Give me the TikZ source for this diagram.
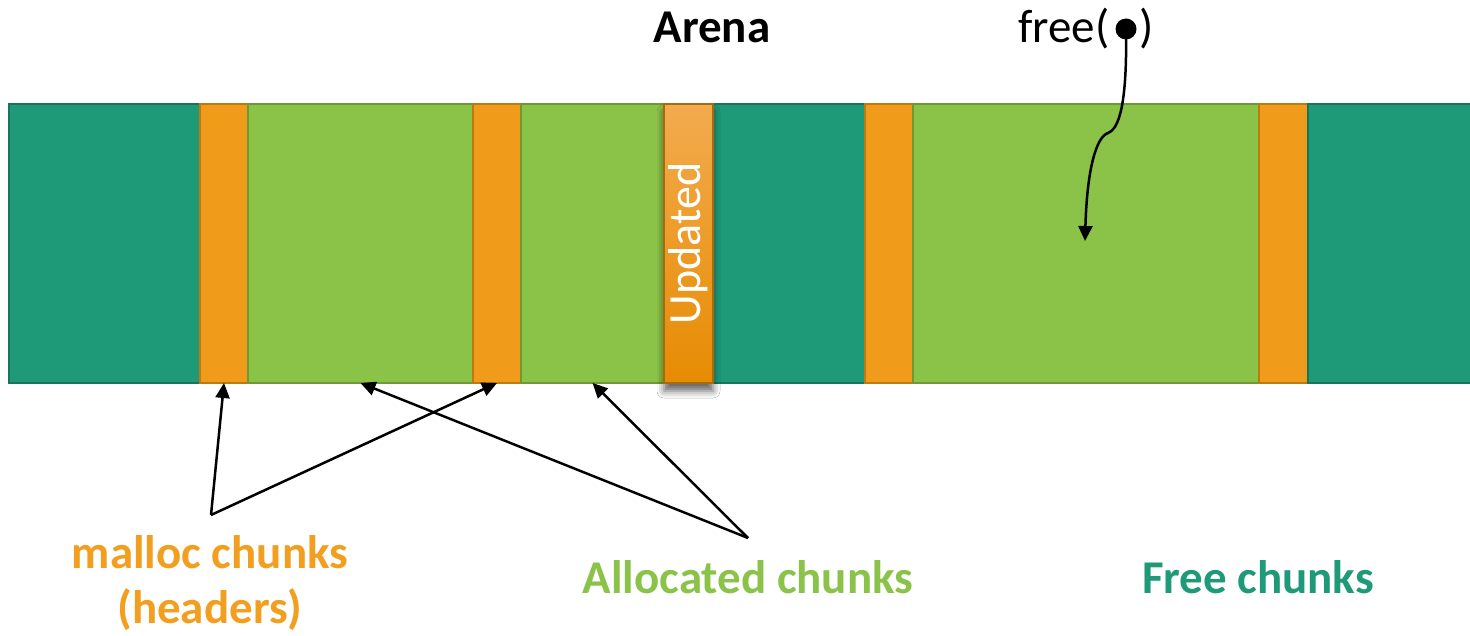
\documentclass[tikz,border=0pt]{standalone}
\usepackage{fontspec}
\setmainfont{Carlito}
\usetikzlibrary{arrows.meta,shadows.blur}
\definecolor{tealf}{HTML}{1E9A78}
\definecolor{tealb}{HTML}{177559}
\definecolor{orf}{HTML}{F09C1A}
\definecolor{orb}{HTML}{C0780F}
\definecolor{grf}{HTML}{8BC248}
\definecolor{grb}{HTML}{6E9A35}
\definecolor{uptop}{HTML}{F3AB4E}
\definecolor{upmid}{HTML}{F59E14}
\definecolor{upbot}{HTML}{E68C02}
\definecolor{upb}{HTML}{A86A10}
\definecolor{ortext}{HTML}{F29E1F}
\definecolor{grtext}{HTML}{8BC34A}
\definecolor{tltext}{HTML}{1F9A78}
\begin{document}
\begin{tikzpicture}[x=1pt,y=-1pt,
  seg/.style={rectangle, inner sep=0pt, outer sep=0pt, minimum height=279pt, anchor=north west, line width=2pt},
  freeseg/.style={seg, fill=tealf, draw=tealb},
  hdrseg/.style={seg, fill=orf, draw=orb},
  allocseg/.style={seg, fill=grf, draw=grb},
  big/.style={font=\fontsize{47}{54}\selectfont},
  bigb/.style={font=\fontsize{47}{55}\selectfont\bfseries},
  ptr/.style={line width=2.5pt, -{Triangle[length=15pt,width=14pt]}}
]
\useasboundingbox (0,0) rectangle (1470,636);
\clip (0,0) rectangle (1470,636);
\fill[white] (0,0) rectangle (1470,636);

\node[freeseg, minimum width=191pt] (t1) at (9,104) {};
\node[hdrseg, minimum width=48pt] (h1) at (200,104) {};
\node[allocseg, minimum width=225pt] (g1) at (248,104) {};
\node[hdrseg, minimum width=48pt] (h2) at (473,104) {};
\node[allocseg, minimum width=143pt] (g2) at (521,104) {};
\node[freeseg, minimum width=152pt] (t2) at (713,104) {};
\node[hdrseg, minimum width=48pt] (h3) at (865,104) {};
\node[allocseg, minimum width=346pt] (g3) at (913,104) {};
\node[hdrseg, minimum width=49pt] (h4) at (1259,104) {};
\node[freeseg, minimum width=180pt] (t3) at (1308,104) {};
\node[seg, minimum width=49pt, draw=upb, top color=uptop, middle color=upmid, bottom color=upbot,
      blur shadow={shadow xshift=0pt, shadow yshift=-8pt, shadow blur radius=7pt, shadow opacity=60},
      text=white, font=\fontsize{46}{50}\selectfont] (up) at (664,104) {\rotatebox{90}{Updated}};

\node[bigb, anchor=base] (arena) at (712,43) {Arena};
\node[big, anchor=base west, inner sep=0pt] (free) at (1018,43) {free(\hspace{30pt})};
\node[circle, fill=black, inner sep=0pt, minimum size=21pt] (fdot) at (1126,29) {};
\coordinate (ftip) at (1085,241);
\draw[ptr] (fdot.center) .. controls (1127,90) and (1122,128) .. (1108,133)
  .. controls (1096,137) and (1087,170) .. (ftip);

\node[bigb, text=ortext, align=center, anchor=base] (mlbl) at (210,623) {malloc chunks\\(headers)};
\node[bigb, text=grtext, anchor=base] (albl) at (748,593) {Allocated chunks};
\node[bigb, text=tltext, anchor=base] (flbl) at (1258,593) {Free chunks};

\coordinate (mj) at (211,515);
\coordinate (aj) at (748,538);
\draw[ptr] (mj) -- (h1.south);
\draw[ptr] (mj) -- (h2.south);
\draw[ptr] (aj) -- (g1.south);
\draw[ptr] (aj) -- (g2.south);
\end{tikzpicture}
\end{document}
